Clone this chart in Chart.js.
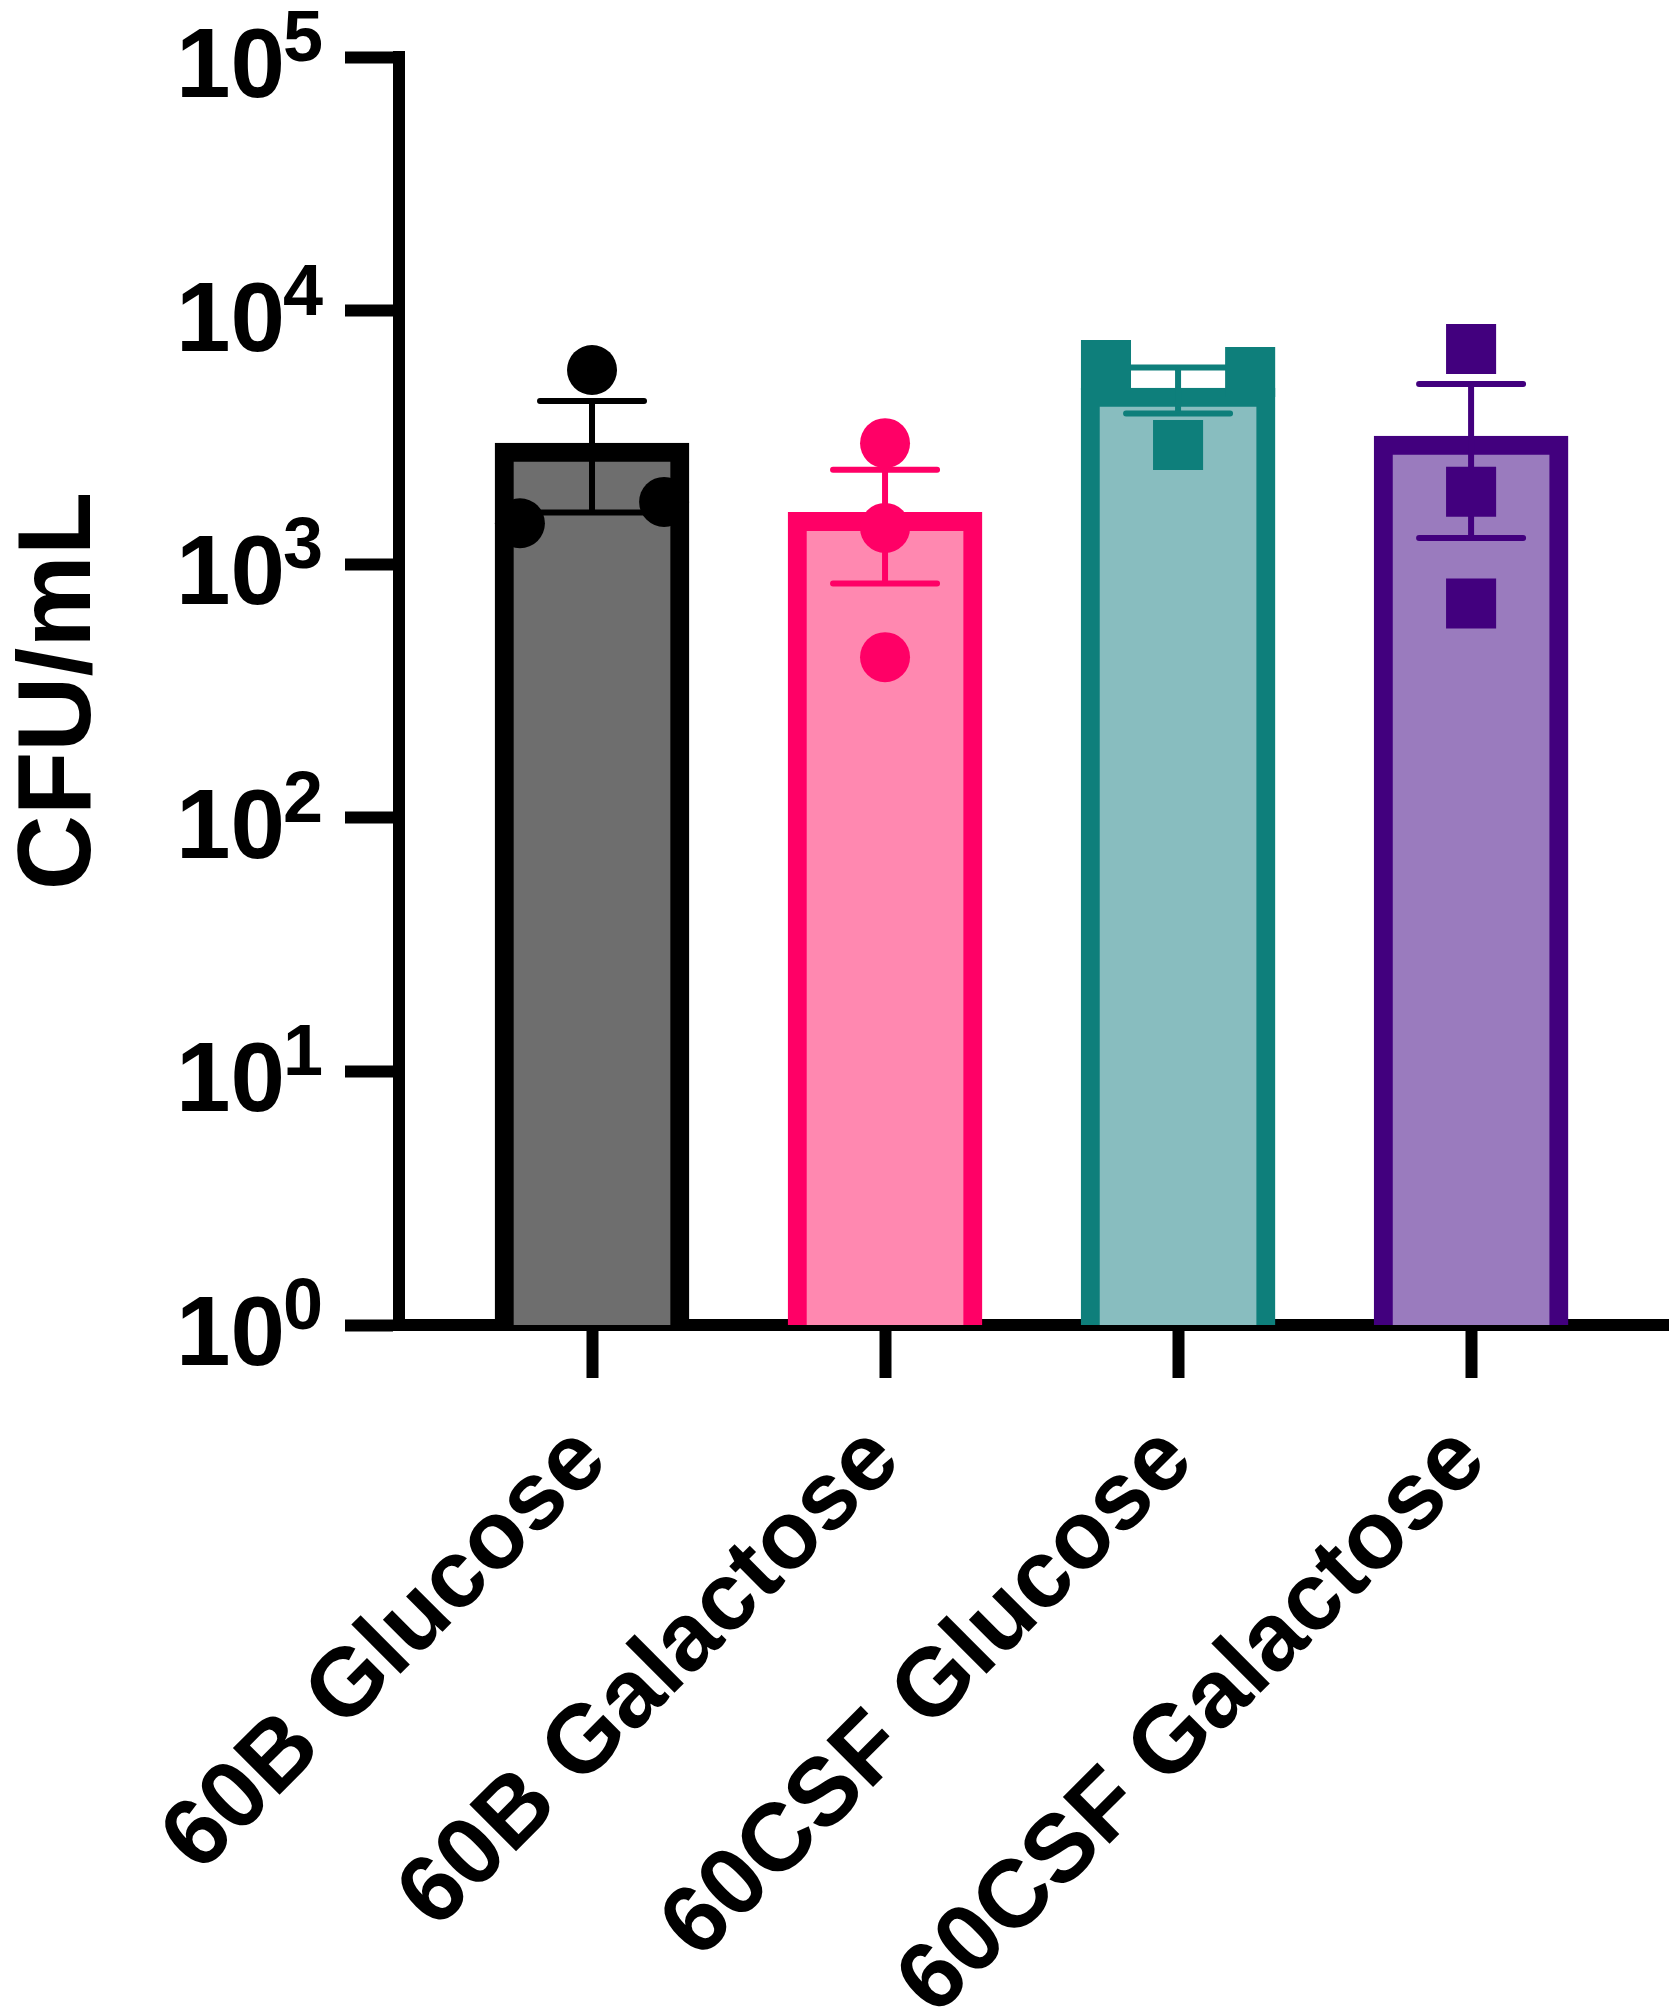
<!DOCTYPE html>
<html>
<head>
<meta charset="utf-8">
<script src="https://cdn.jsdelivr.net/npm/chart.js@4.4.1/dist/chart.umd.min.js"></script>
<style>
html,body{margin:0;padding:0;background:#ffffff;}
#wrap{width:1673px;height:2011px;position:relative;}
</style>
</head>
<body>
<div id="wrap"><canvas id="c"></canvas></div>
<script>
// ---- data ----
const categories = ['60B Glucose', '60B Galactose', '60CSF Glucose', '60CSF Galactose'];
const means = [3000, 1600, 4950, 3200];
const sems = [1400, 760, 1020, 1930];
const points60BGlucose = [5830, 1450, 1760];
const points60BGalactose = [3000, 1390, 430];
const points60CSFGlucose = [6100, 5730, 2950];
const points60CSFGalactose = [7060, 1930, 700];
const yTickValues = [1, 10, 100, 1000, 10000, 100000];
const yAxisTitle = 'CFU/mL';

// ---- style ----
const fillColors = ['#6E6E6E', '#FF88B0', '#88BDBF', '#9A7BBE'];
const edgeColors = ['#000000', '#FF0066', '#0E7F7B', '#42007E'];
const markerShapes = ['circle', 'circle', 'rect', 'rect'];
const jitterSlots = [[0, -1, 1], [0, 0, 0], [-1, 1, 0], [0, 0, 0]];
const JITTER = 0.246;
const FONT = '"Liberation Sans", Arial, Helvetica, sans-serif';

const groupPoints = [points60BGlucose, points60BGalactose, points60CSFGlucose, points60CSFGalactose];

const scatterData = [], ptColors = [], ptStyles = [], ptRadii = [];
groupPoints.forEach((arr, i) => {
  arr.forEach((v, j) => {
    scatterData.push({x: i + jitterSlots[i][j] * JITTER, y: v});
    ptColors.push(edgeColors[i]);
    ptStyles.push(markerShapes[i]);
    ptRadii.push(markerShapes[i] === 'rect' ? 35.4 : 25);
  });
});

const barData = categories.map((c, i) => ({x: i, y: means[i]}));

const errorBarPlugin = {
  id: 'errorBars',
  afterDatasetDraw(chart, args) {
    if (args.meta.type !== 'bar') return;
    const ctx = chart.ctx, xs = chart.scales.x, ys = chart.scales.y;
    ctx.save();
    ctx.lineWidth = 6;
    ctx.lineCap = 'round';
    means.forEach((m, i) => {
      const px = xs.getPixelForValue(i);
      const yTop = ys.getPixelForValue(m + sems[i]);
      const yBot = ys.getPixelForValue(m - sems[i]);
      ctx.strokeStyle = edgeColors[i];
      ctx.beginPath();
      ctx.moveTo(px, yTop); ctx.lineTo(px, yBot);
      ctx.moveTo(px - 52, yTop); ctx.lineTo(px + 52, yTop);
      ctx.moveTo(px - 52, yBot); ctx.lineTo(px + 52, yBot);
      ctx.stroke();
    });
    ctx.restore();
  }
};

const yLabelPlugin = {
  id: 'yLabels',
  afterDraw(chart) {
    const ys = chart.scales.y, ctx = chart.ctx;
    const tickStart = chart.chartArea.left - ys.options.grid.tickLength;
    ctx.save();
    ctx.fillStyle = '#000000';
    ctx.textBaseline = 'alphabetic';
    ys.ticks.forEach(t => {
      const py = ys.getPixelForValue(t.value);
      const exp = String(Math.round(Math.log10(t.value)));
      ctx.font = 'bold 98px ' + FONT;
      ctx.textAlign = 'right';
      ctx.fillText('10', tickStart - 60, py + 40);
      ctx.font = 'bold 72px ' + FONT;
      ctx.textAlign = 'left';
      ctx.fillText(exp, tickStart - 62, py + 4);
    });
    ctx.restore();
  }
};

new Chart(document.getElementById('c'), {
  data: {
    datasets: [
      {
        type: 'scatter',
        data: scatterData,
        order: 1,
        pointBackgroundColor: ptColors,
        pointBorderWidth: 0,
        pointBorderColor: ptColors,
        pointStyle: ptStyles,
        pointRadius: ptRadii,
        showLine: false,
        clip: false
      },
      {
        type: 'bar',
        data: barData,
        order: 2,
        backgroundColor: fillColors,
        borderColor: edgeColors,
        borderWidth: 19,
        barThickness: 194,
        borderSkipped: 'start'
      }
    ]
  },
  options: {
    responsive: true,
    maintainAspectRatio: false,
    animation: false,
    events: [],
    layout: {autoPadding: false, padding: {top: 57, right: 5, left: 0, bottom: 0}},
    plugins: {legend: {display: false}, tooltip: {enabled: false}},
    scales: {
      x: {
        type: 'linear',
        position: 'bottom',
        offset: false,
        min: -0.6587,
        max: 3.672,
        afterBuildTicks: (s) => { s.ticks = categories.map((c, i) => ({value: i})); },
        afterFit: (s) => { s.height = 686; s.paddingLeft = 0; s.paddingRight = 0; },
        grid: {display: true, offset: false, drawOnChartArea: false, drawTicks: true, tickLength: 53, tickWidth: 12, tickColor: '#000000'},
        border: {display: true, width: 12, color: '#000000'},
        ticks: {
          autoSkip: false,
          maxRotation: 45,
          minRotation: 45,
          padding: 26,
          color: '#000000',
          font: {family: FONT, size: 96, weight: 'bold'},
          callback: (v) => categories[v]
        }
      },
      y: {
        type: 'logarithmic',
        position: 'left',
        min: 1,
        max: 100000,
        afterBuildTicks: (s) => { s.ticks = yTickValues.map(v => ({value: v})); },
        afterFit: (s) => { s.width = 399; s.paddingTop = 0; s.paddingBottom = 0; },
        grid: {display: true, drawOnChartArea: false, drawTicks: true, tickLength: 54, tickWidth: 12, tickColor: '#000000'},
        border: {display: true, width: 12, color: '#000000'},
        ticks: {display: false},
        title: {
          display: true,
          text: yAxisTitle,
          color: '#000000',
          font: {family: FONT, size: 104, weight: 'bold', lineHeight: 1},
          padding: {top: 9, bottom: 0}
        }
      }
    }
  },
  plugins: [errorBarPlugin, yLabelPlugin]
});
</script>
</body>
</html>
